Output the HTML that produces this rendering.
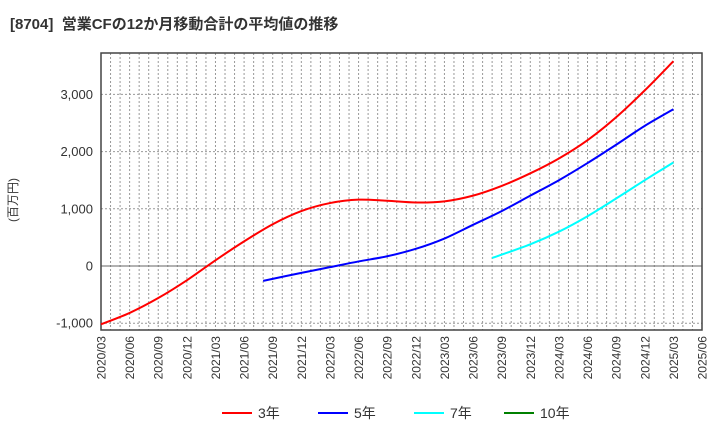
<!DOCTYPE html>
<html><head><meta charset="utf-8"><style>
body{margin:0;background:#fff;font-family:"Liberation Sans","Noto Sans CJK JP",sans-serif;}
</style></head><body>
<svg width="720" height="440" xmlns="http://www.w3.org/2000/svg" font-family="Liberation Sans, Noto Sans CJK JP, sans-serif">
<text x="10" y="29" font-size="15" font-weight="bold" fill="#333" style="white-space:pre">[8704]  営業CFの12か月移動合計の平均値の推移</text>
<text transform="translate(17,200) rotate(-90)" font-size="12" fill="#333" text-anchor="middle">(百万円)</text>
<g id="grid"></g><g id="axes"></g><g id="series"></g><g id="legend"></g>
</svg>
<script>
const xLabels=["2020/03","2020/06","2020/09","2020/12","2021/03","2021/06","2021/09","2021/12","2022/03","2022/06","2022/09","2022/12","2023/03","2023/06","2023/09","2023/12","2024/03","2024/06","2024/09","2024/12","2025/03","2025/06"];
const yTicks=[-1000,0,1000,2000,3000];
const yTickLabels=["-1,000","0","1,000","2,000","3,000"];
const s3Months=[0,3,6,9,12,15,18,21,24,27,30,33,36,39,42,45,48,51,54,57,60];
const s3Values=[-1020,-820,-560,-250,100,430,730,960,1100,1160,1140,1110,1130,1230,1400,1620,1880,2200,2600,3070,3580];
const s5Months=[17,21,24,27,30,33,36,39,42,45,48,51,54,57,60];
const s5Values=[-260,-120,-20,80,170,300,480,720,960,1230,1500,1800,2120,2450,2740];
const s7Months=[41,45,48,51,54,57,60];
const s7Values=[140,380,600,870,1180,1500,1810];
const legendNames=["3年","5年","7年","10年"];
const colors=["#ff0000","#0000ff","#00ffff","#008000"];
const L=101,R=702,T=53,B=330;
const X=m=>L+m*(R-L)/63;
const Y=v=>266-v*57.2/1000;
const NS="http://www.w3.org/2000/svg";
function mk(tag,attrs,parent,text){const e=document.createElementNS(NS,tag);for(const k in attrs)e.setAttribute(k,attrs[k]);if(text!==undefined)e.textContent=text;parent.appendChild(e);return e;}
const grid=document.getElementById('grid'),axes=document.getElementById('axes'),series=document.getElementById('series'),legend=document.getElementById('legend');
for(let m=1;m<63;m++){const l=mk('line',{x1:X(m),x2:X(m),y1:T,y2:B,stroke:'#999','stroke-dasharray':'2,2','stroke-width':1},grid);

}
yTicks.forEach((v,i)=>{const l=mk('line',{x1:L,x2:R,y1:Y(v),y2:Y(v),stroke:v===0?'#666':'#999','stroke-dasharray':v===0?'':'2,2','stroke-width':1},grid);


const t=mk('text',{x:L-8,y:Y(v)+4.5,'font-size':13,fill:'#333','text-anchor':'end'},axes,yTickLabels[i]);

});
const fr=mk('rect',{x:L,y:T,width:R-L,height:B-T,fill:'none',stroke:'#444','stroke-width':1.5},axes);


xLabels.forEach((s,i)=>{const x=X(i*3);const t=mk('text',{transform:`translate(${x+4.5},${B+6}) rotate(-90)`,'font-size':12,fill:'#333','text-anchor':'end'},axes,s);

});
function line(ms,vs,c,name){
const pts=ms.map((m,i)=>[X(m),Y(vs[i])]);
let d='M'+pts[0][0]+','+pts[0][1];
for(let i=0;i<pts.length-1;i++){const p0=pts[Math.max(0,i-1)],p1=pts[i],p2=pts[i+1],p3=pts[Math.min(pts.length-1,i+2)];
d+=' C'+(p1[0]+(p2[0]-p0[0])/6)+','+(p1[1]+(p2[1]-p0[1])/6)+' '+(p2[0]-(p3[0]-p1[0])/6)+','+(p2[1]-(p3[1]-p1[1])/6)+' '+p2[0]+','+p2[1];}
const p=mk('path',{d:d,fill:'none',stroke:c,'stroke-width':2,'stroke-linejoin':'round'},series);

}
line(s3Months,s3Values,colors[0],'series-3y-line');
line(s5Months,s5Values,colors[1],'series-5y-line');
line(s7Months,s7Values,colors[2],'series-7y-line');
const lx=[222,318,414,504];
legendNames.forEach((n,i)=>{const g=mk('g',{},legend);


mk('line',{x1:lx[i],x2:lx[i]+30,y1:413,y2:413,stroke:colors[i],'stroke-width':2},g);
mk('text',{x:lx[i]+36,y:418,'font-size':14,fill:'#333'},g,n);});
</script>
</body></html>
